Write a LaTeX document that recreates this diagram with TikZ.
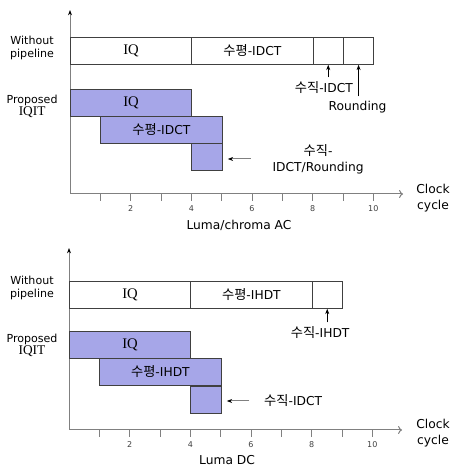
\documentclass[tikz,border=0pt]{standalone}
\usepackage{fontspec}
\setmainfont{DejaVu Sans}
\newfontfamily\krfont[Scale=1.08]{Noto Sans CJK KR}
\newfontfamily\iqfont{Liberation Serif}
\usetikzlibrary{arrows.meta}
\definecolor{stageBlue}{RGB}{166,166,232}
\definecolor{axisGray}{RGB}{128,128,128}
\definecolor{edgeGray}{RGB}{64,64,64}
\newcommand{\kr}[1]{{\krfont #1}}
\newcommand{\iq}[1]{{\iqfont\fontsize{11}{12}\selectfont #1}}
\newcommand{\cyc}{22.75pt}

\begin{document}
\begin{tikzpicture}[x=0.75pt, y=0.75pt, font=\fontsize{9.2}{12}\selectfont,
    axis/.style={axisGray, line width=0.75pt},
    tick/.style={font=\fontsize{6}{7}\selectfont, text=black!75},
    caption/.style={align=center},
    rowlabel/.style={align=center, font=\fontsize{8.3}{9.5}\selectfont},
    stage/.style={draw=edgeGray, line width=0.6pt, anchor=north west,
        minimum height=20.25pt, inner sep=0pt},
    seq/.style={stage, fill=white},
    pipe/.style={stage, fill=stageBlue},
    upptr/.style={-{Stealth[length=4pt,width=3pt]}, line width=0.5pt},
    leftptr/.style={-{Stealth[length=4pt,width=3pt,color=black]}, axisGray, line width=0.75pt}]
    \useasboundingbox (0,0) rectangle (451,471);

    % Luma/chroma AC
    \begin{scope}[shift={(70,277)}, x=\cyc]
        \draw[axis, -{Stealth[length=4pt,width=3pt,color=black]}] (0,0) -- (0,184);
        \draw[axis, -{To[length=3pt,width=6pt]}] (0,0) -- (10.98,0);
        \foreach \i in {1,...,10} {
            \draw[axis] (\i,0) -- (\i,-7);
        }
        \foreach \i in {2,4,...,10} {
            \node[tick] (ta\i) at (\i,-15) {\i};
        }
        \node[caption] (clockA) at (11.97,-4) {Clock\\cycle};
        \node[caption] (lumaA) at (5.57,-31) {Luma/chroma AC};
        \node[rowlabel] (seqA) at (-1.25,146) {Without\\pipeline};
        \node[rowlabel] (propA) at (-1.25,87.5) {Proposed\\{\iqfont\fontsize{10}{9.5}\selectfont IQIT}};
        % without pipeline
        \node[seq, minimum width=4*\cyc] (iqA) at (0,157) {\iq{IQ}};
        \node[seq, minimum width=4*\cyc] (horA) at (4,157) {\kr{수평}-IDCT};
        \node[seq, minimum width=\cyc] (verA) at (8,157) {};
        \node[seq, minimum width=\cyc] (rndA) at (9,157) {};
        % proposed IQIT
        \node[pipe, minimum width=4*\cyc] (piqA) at (0,105) {\iq{IQ}};
        \node[pipe, minimum width=4*\cyc] (phorA) at (1,78) {\kr{수평}-IDCT};
        \node[pipe, minimum width=\cyc] (pverA) at (4,51) {};
        % notes
        \node (verNoteA) at (8.37,106) {\kr{수직}-IDCT};
        \node (rndNoteA) at (9.48,87) {Rounding};
        \node[align=center] (pverNoteA) at (8.18,35) {\kr{수직}-\\IDCT/Rounding};
        \draw[upptr] (verA.south |- verNoteA.north) -- (verA.south);
        \draw[upptr] (rndA.south |- rndNoteA.north) -- (rndA.south);
        \draw[leftptr] ([xshift=-13pt]pverNoteA.west) -- ([xshift=4pt]pverA.east |- pverNoteA.west);
    \end{scope}

    % Luma DC
    \begin{scope}[shift={(69,41)}, x=\cyc]
        \draw[axis, -{Stealth[length=4pt,width=3pt,color=black]}] (0,0) -- (0,182);
        \draw[axis, -{To[length=3pt,width=6pt]}] (0,0) -- (10.98,0);
        \foreach \i in {1,...,10} {
            \draw[axis] (\i,0) -- (\i,-7);
        }
        \foreach \i in {2,4,...,10} {
            \node[tick] (tb\i) at (\i,-15) {\i};
        }
        \node[caption] (clockB) at (12.0,-3) {Clock\\cycle};
        \node[caption] (lumaB) at (5.21,-30) {Luma DC};
        \node[rowlabel] (seqB) at (-1.22,142) {Without\\pipeline};
        \node[rowlabel] (propB) at (-1.22,84.5) {Proposed\\{\iqfont\fontsize{10}{9.5}\selectfont IQIT}};
        % without pipeline
        \node[seq, minimum width=4*\cyc] (iqB) at (0,149) {\iq{IQ}};
        \node[seq, minimum width=4*\cyc] (horB) at (4,149) {\kr{수평}-IHDT};
        \node[seq, minimum width=\cyc] (verB) at (8,149) {};
        % proposed IQIT
        \node[pipe, minimum width=4*\cyc] (piqB) at (0,99) {\iq{IQ}};
        \node[pipe, minimum width=4*\cyc] (phorB) at (1,72) {\kr{수평}-IHDT};
        \node[pipe, minimum width=\cyc] (pverB) at (4,44) {};
        % notes
        \node (verNoteB) at (8.28,97) {\kr{수직}-IHDT};
        \node (pverNoteB) at (7.39,29) {\kr{수직}-IDCT};
        \draw[upptr] (verB.south |- verNoteB.north) -- (verB.south);
        \draw[leftptr] ([xshift=-7.5pt]pverNoteB.west) -- ([xshift=4pt]pverB.east |- pverNoteB.west);
    \end{scope}
\end{tikzpicture}
\end{document}
